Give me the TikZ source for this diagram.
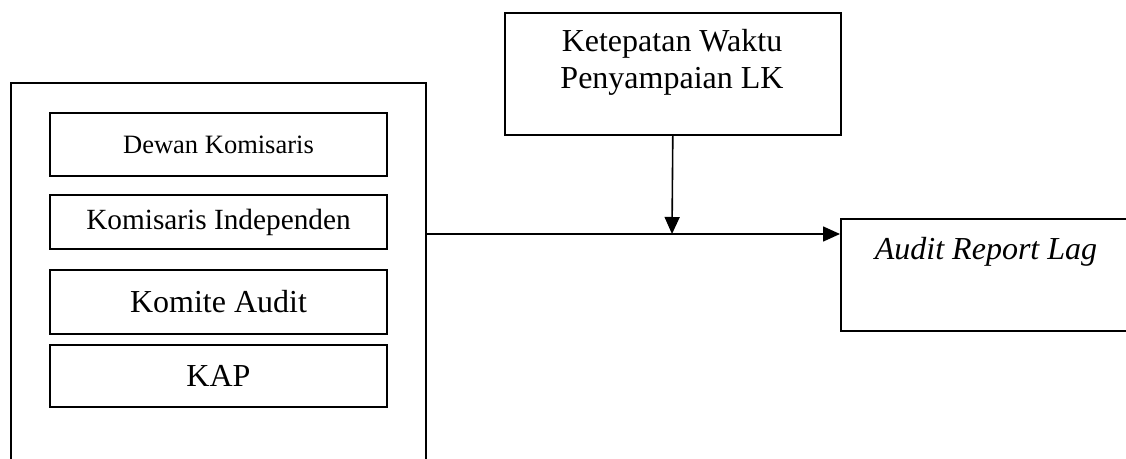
\documentclass[tikz,border=0pt]{standalone}
\usepackage{fontspec}
\setmainfont{Liberation Serif}
\usetikzlibrary{arrows.meta}
\begin{document}
\begin{tikzpicture}[x=1pt,y=-1pt,
  box/.style={draw,line width=1.6pt,rectangle,inner sep=0pt},
  inbox/.style={box,minimum width=337pt},
  conn/.style={line width=1.6pt,-{Triangle[length=17pt,width=15pt]}},
  big/.style={font=\fontsize{32}{37}\selectfont}]
\useasboundingbox (0,0) rectangle (1126,458);
\clip (0,0) rectangle (1126,458);
\fill[white] (0,0) rectangle (1126,458);
% outer group box
\node[box,anchor=north west,minimum width=415pt,minimum height=400pt] (outer) at (10,82) {};
\node[inbox,minimum height=63pt,font=\fontsize{26.5}{30}\selectfont] (dk) at (218.5,144.5) {Dewan Komisaris};
\node[inbox,minimum height=54pt,font=\fontsize{29.3}{33}\selectfont] (ki) at (218.5,222) {Komisaris Independen};
\node[inbox,minimum height=64pt,big] (ka) at (218.5,302) {Komite Audit};
\node[inbox,minimum height=62pt,big] (kap) at (218.5,376) {KAP};
% moderator box
\node[box,anchor=north west,minimum width=336pt,minimum height=122pt] (mod) at (504,12) {};
\node[big,anchor=north,align=center,inner sep=0pt] (modt) at (672,29) {Ketepatan Waktu\\Penyampaian LK};
% dependent box
\node[box,anchor=north west,minimum width=292pt,minimum height=112pt] (arl) at (840,218) {};
\node[big,anchor=north,inner sep=0pt] (arlt) at (986,237) {\itshape Audit Report Lag};
% connectors
\coordinate (m) at (672,234);
\draw[line width=1.6pt] (outer.east |- m) -- (m);
\draw[conn] (m) -- (arl.west |- m);
\draw[conn] (mod.south) -- (m);
\end{tikzpicture}
\end{document}
